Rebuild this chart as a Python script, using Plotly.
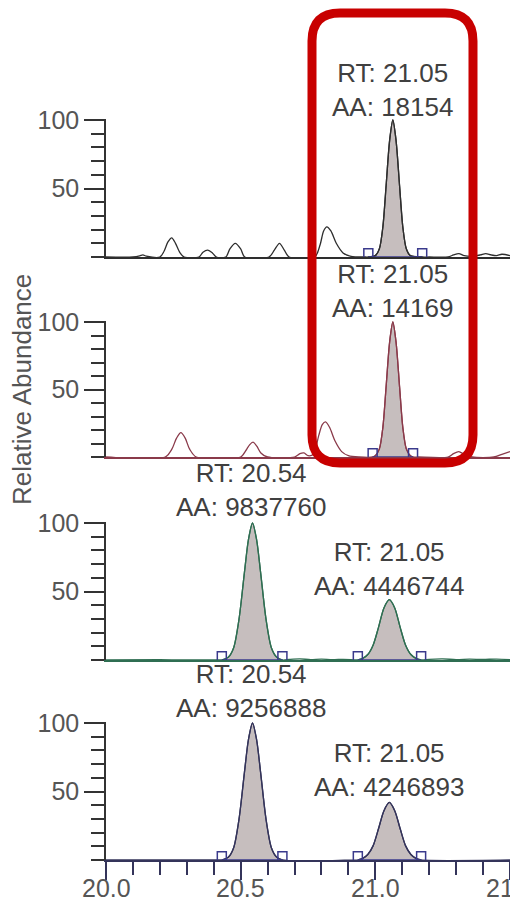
import plotly.graph_objects as go

W, H = 510, 907

# ---------------- data ----------------
# Panel 1 (black trace)
P1_PRE_X = [20.00, 20.10, 20.125, 20.137, 20.15, 20.20, 20.215, 20.23, 20.244, 20.258, 20.275, 20.29,
            20.345, 20.36, 20.378, 20.395, 20.41, 20.445, 20.46, 20.48, 20.50, 20.515,
            20.605, 20.625, 20.644, 20.662, 20.68, 20.775, 20.795, 20.808, 20.82, 20.835, 20.855,
            20.88, 20.91, 20.96]
P1_PRE_Y = [0, 0, 0.8, 1.5, 0.6, 0, 4, 11, 14, 10, 3, 0,
            0, 3.5, 5, 3, 0, 0, 6, 10, 6, 0,
            0, 5, 10, 5, 0, 0, 9, 19, 22, 19, 10,
            3, 0.5, 0]
P1_PEAK_X = [20.974, 21.0, 21.015, 21.028, 21.04, 21.053, 21.065, 21.077, 21.09, 21.102, 21.115, 21.13, 21.174]
P1_PEAK_Y = [0, 1, 6, 22, 52, 85, 100, 85, 52, 22, 6, 1, 0]
P1_POST_X = [21.2, 21.27, 21.29, 21.31, 21.33, 21.36, 21.39, 21.41, 21.43, 21.45, 21.47, 21.5]
P1_POST_Y = [0, 0, 1.5, 2.5, 1, 0.5, 1.5, 2.5, 1.5, 1, 2, 1]
P1_BOUNDS = [20.974, 21.174]

# Panel 2 (maroon trace)
P2_PRE_X = [20.00, 20.22, 20.245, 20.262, 20.278, 20.294, 20.31, 20.335,
            20.50, 20.52, 20.533, 20.546, 20.56, 20.575, 20.6,
            20.70, 20.72, 20.735, 20.75, 20.77, 20.79, 20.803, 20.815, 20.83, 20.85, 20.875, 20.9, 20.94]
P2_PRE_Y = [0, 0, 6, 14, 18, 14, 6, 0,
            0, 5, 9, 11, 8, 3, 0,
            0, 2.5, 3, 1, 2, 16, 24, 26, 22, 12, 4, 1, 0]
P2_PEAK_X = [20.99, 21.0, 21.015, 21.028, 21.04, 21.053, 21.065, 21.077, 21.09, 21.102, 21.115, 21.13, 21.14]
P2_PEAK_Y = [0, 1, 6, 22, 52, 85, 100, 85, 52, 22, 6, 1, 0]
P2_POST_X = [21.16, 21.27, 21.29, 21.31, 21.33, 21.36, 21.44, 21.47, 21.5]
P2_POST_Y = [0, 0, 2.5, 4, 2, 0, 0, 2, 4]
P2_BOUNDS = [20.99, 21.14]

# Panel 3 (green trace)
P3_PRE_X = [20.0, 20.2, 20.3, 20.43]
P3_PRE_Y = [0, 0.2, 0, 0]
P3_PEAKA_X = [20.43, 20.454, 20.474, 20.494, 20.514, 20.529, 20.544, 20.559, 20.574, 20.594, 20.614, 20.634, 20.655]
P3_PEAKA_Y = [0, 2, 9, 30, 64, 88, 100, 88, 64, 30, 9, 2, 0]
P3_MID_X = [20.68, 20.72, 20.76, 20.8, 20.84, 20.88, 20.91, 20.935]
P3_MID_Y = [0.4, 0.8, 0.3, 0.7, 0.2, 0.5, 0.3, 0]
P3_PEAKB_X = [20.935, 20.952, 20.972, 20.992, 21.012, 21.032, 21.052, 21.072, 21.092, 21.112, 21.132, 21.152, 21.17]
P3_PEAKB_Y = [0, 1, 4, 11, 24, 38, 44, 38, 24, 11, 4, 1, 0]
P3_POST_X = [21.2, 21.25, 21.3, 21.35, 21.4, 21.45, 21.5]
P3_POST_Y = [0.5, 0.8, 0.3, 0.6, 0.4, 0.7, 0.3]
P3_BOUNDS = [20.43, 20.655, 20.935, 21.17]

# Panel 4 (navy trace)
P4_PRE_X = [20.0, 20.43]
P4_PRE_Y = [0, 0]
P4_PEAKA_X = [20.43, 20.454, 20.474, 20.494, 20.514, 20.529, 20.544, 20.559, 20.574, 20.594, 20.614, 20.634, 20.655]
P4_PEAKA_Y = [0, 2, 9, 30, 64, 88, 100, 88, 64, 30, 9, 2, 0]
P4_MID_X = [20.935]
P4_MID_Y = [0]
P4_PEAKB_X = [20.935, 20.952, 20.972, 20.992, 21.012, 21.032, 21.052, 21.072, 21.092, 21.112, 21.132, 21.152, 21.17]
P4_PEAKB_Y = [0, 1, 4, 10.5, 23, 36, 42, 36, 23, 10.5, 4, 1, 0]
P4_POST_X = [21.5]
P4_POST_Y = [0]
P4_BOUNDS = [20.43, 20.655, 20.935, 21.17]

# Peak labels
LABELS = [
    [("21.05", "18154", 21.065)],
    [("21.05", "14169", 21.065)],
    [("20.54", "9837760", 20.538), ("21.05", "4446744", 21.052)],
    [("20.54", "9256888", 20.538), ("21.05", "4246893", 21.052)],
]

X_TICKS = [20.0, 20.5, 21.0, 21.5]
X_TICKTEXT = ["20.0", "20.5", "21.0", "21.5"]
Y_TICKS = [50, 100]
Y_TICKTEXT = ["50", "100"]

# ---------------- styling / layout ----------------
FONT = "Liberation Sans, Arial, sans-serif"
COLORS = ["#2e2e2e", "#8a3a4a", "#2f6e52", "#34345a"]
FILL = "#c6bebe"
NAVY = "#3a3a8c"
BASE_PX = [257, 457, 660, 860]
TOP_PX = [120, 322, 523, 723]
LABEL_PX = [[89.5], [291], [490, 569], [691, 770]]
XLABEL_PX = 888
YMAX = 101

fig = go.Figure()

panels = [
    (P1_PRE_X + P1_PEAK_X + P1_POST_X, P1_PRE_Y + P1_PEAK_Y + P1_POST_Y, [(P1_PEAK_X, P1_PEAK_Y)], P1_BOUNDS),
    (P2_PRE_X + P2_PEAK_X + P2_POST_X, P2_PRE_Y + P2_PEAK_Y + P2_POST_Y, [(P2_PEAK_X, P2_PEAK_Y)], P2_BOUNDS),
    (P3_PRE_X + P3_PEAKA_X + P3_MID_X + P3_PEAKB_X + P3_POST_X,
     P3_PRE_Y + P3_PEAKA_Y + P3_MID_Y + P3_PEAKB_Y + P3_POST_Y,
     [(P3_PEAKA_X, P3_PEAKA_Y), (P3_PEAKB_X, P3_PEAKB_Y)], P3_BOUNDS),
    (P4_PRE_X + P4_PEAKA_X + P4_MID_X + P4_PEAKB_X + P4_POST_X,
     P4_PRE_Y + P4_PEAKA_Y + P4_MID_Y + P4_PEAKB_Y + P4_POST_Y,
     [(P4_PEAKA_X, P4_PEAKA_Y), (P4_PEAKB_X, P4_PEAKB_Y)], P4_BOUNDS),
]

annotations = []
for i, (tx, ty, peaks, bounds) in enumerate(panels):
    n = "" if i == 0 else str(i + 1)
    xa, ya = "x" + n, "y" + n
    col = COLORS[i]
    for (px_, py_) in peaks:
        fig.add_trace(go.Scatter(x=px_, y=py_, xaxis=xa, yaxis=ya, mode="lines",
                                 fill="tozeroy", fillcolor=FILL,
                                 line=dict(color=col, width=1.3, shape="spline", smoothing=0.8),
                                 hoverinfo="skip"))
    fig.add_trace(go.Scatter(x=tx, y=ty, xaxis=xa, yaxis=ya, mode="lines",
                             line=dict(color=col, width=1.3, shape="spline", smoothing=0.8),
                             hoverinfo="skip"))
    # integration baselines and boundary markers
    for k in range(0, len(bounds), 2):
        fig.add_trace(go.Scatter(x=bounds[k:k + 2], y=[0, 0], xaxis=xa, yaxis=ya, mode="lines",
                                 line=dict(color=NAVY, width=1.5), hoverinfo="skip"))
    fig.add_trace(go.Scatter(x=bounds, y=[2.8] * len(bounds), xaxis=xa, yaxis=ya, mode="markers",
                             marker=dict(symbol="square-open", size=9, color=NAVY,
                                         line=dict(width=1.5, color=NAVY)),
                             cliponaxis=False, hoverinfo="skip"))

    base, top = BASE_PX[i], TOP_PX[i]
    top_ext = top - (YMAX - 100) * (base - top) / 100.0
    ydom = [1 - base / H, 1 - top_ext / H]
    bottom = (i == 3)
    fig.layout["xaxis" + n] = dict(
        domain=[106 / W, 1], range=[20.0, 21.5], anchor=ya, automargin=False,
        showline=True, linecolor=col, linewidth=1.5,
        showgrid=False, zeroline=False,
        showticklabels=False,
        ticks="outside" if bottom else "",
        tickmode="array", tickvals=X_TICKS,
        ticklen=18, tickwidth=1.5, tickcolor=col,
        minor=dict(ticks="outside" if bottom else "", tickmode="linear", tick0=20.0, dtick=0.1,
                   ticklen=13, tickwidth=1.5, tickcolor=col),
    )
    fig.layout["yaxis" + n] = dict(
        domain=ydom, range=[0, YMAX], anchor=xa, automargin=False,
        showline=True, linecolor="#333333", linewidth=1.5,
        showgrid=False, zeroline=False,
        ticks="outside", tickmode="array", tickvals=Y_TICKS, ticktext=Y_TICKTEXT,
        ticklen=20, tickwidth=1.5, tickcolor="#333333",
        minor=dict(ticks="outside", tickmode="linear", tick0=0, dtick=10,
                   ticklen=13, tickwidth=1.5, tickcolor="#333333"),
        tickfont=dict(family=FONT, size=25, color="#555555"),
    )
    for (rt, aa, xpos), lpy in zip(LABELS[i], LABEL_PX[i]):
        annotations.append(dict(
            x=xpos, xref=xa, y=1 - lpy / H, yref="paper",
            text=f"RT: {rt}<br>AA: {aa}", showarrow=False,
            xanchor="center", yanchor="middle", align="center",
            font=dict(family=FONT, size=26, color="#404040")))

# bottom x tick labels, placed at the x4 tick values
for tv, tt in zip(X_TICKS, X_TICKTEXT):
    annotations.append(dict(
        x=tv, xref="x4", y=1 - XLABEL_PX / H, yref="paper", text=tt, showarrow=False,
        xanchor="center", yanchor="middle",
        font=dict(family=FONT, size=25, color="#555555")))

annotations.append(dict(
    x=22 / W, y=1 - 390 / H, xref="paper", yref="paper", text="Relative Abundance",
    textangle=-90, showarrow=False, xanchor="center", yanchor="middle",
    font=dict(family=FONT, size=26, color="#555555")))


def P(xp, yp):
    return f"{xp / W:.5f},{1 - yp / H:.5f}"


l, r, t, b, rad = 312, 473, 13, 463, 28
path = (f"M {P(l + rad, t)} L {P(r - rad, t)} Q {P(r, t)} {P(r, t + rad)} "
        f"L {P(r, b - rad)} Q {P(r, b)} {P(r - rad, b)} L {P(l + rad, b)} "
        f"Q {P(l, b)} {P(l, b - rad)} L {P(l, t + rad)} Q {P(l, t)} {P(l + rad, t)} Z")

fig.update_layout(
    width=W, height=H, margin=dict(l=0, r=0, t=0, b=0),
    paper_bgcolor="white", plot_bgcolor="white",
    showlegend=False, annotations=annotations,
    shapes=[dict(type="path", path=path, xref="paper", yref="paper",
                 line=dict(color="#c80000", width=9), fillcolor="rgba(0,0,0,0)")],
    font=dict(family=FONT),
)

fig.write_html("out.html")
